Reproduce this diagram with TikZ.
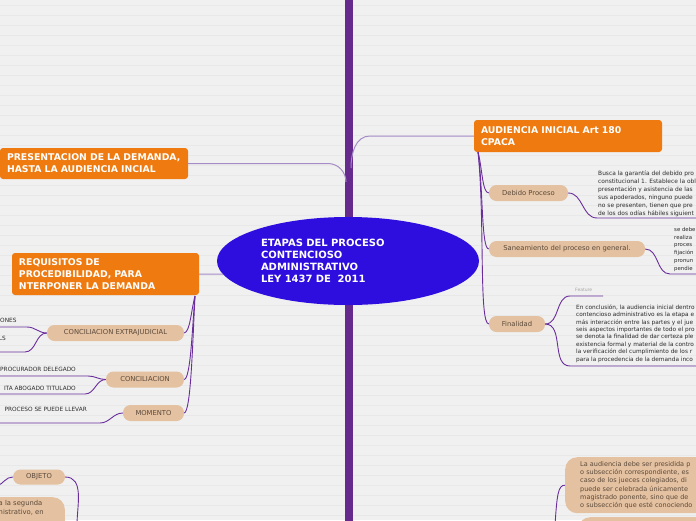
\documentclass[tikz,border=0pt]{standalone}
\usepackage{fontspec}
\setmainfont{DejaVu Sans}
\usetikzlibrary{shapes.geometric}
\definecolor{bgcol}{HTML}{F0F0F0}
\definecolor{stripecol}{HTML}{E8E8E8}
\definecolor{trunkcol}{HTML}{662A8F}
\definecolor{linkcol}{HTML}{6A2E9C}
\definecolor{branchcol}{HTML}{A68CC7}
\definecolor{orangecol}{HTML}{EE7A10}
\definecolor{tancol}{HTML}{E4C1A0}
\definecolor{tantext}{HTML}{5B4A3B}
\definecolor{centralcol}{HTML}{2E0EDE}
\definecolor{leaftext}{HTML}{2B2B2B}
\begin{document}
\begin{tikzpicture}[x=1pt,y=-1pt,
  topic/.style={fill=orangecol,rounded corners=3pt,text=white,align=left,
    font=\fontsize{9.3}{12}\selectfont\bfseries,inner xsep=7pt,inner ysep=0pt},
  pill/.style={fill=tancol,rounded corners=7.5pt,text=tantext,inner sep=0pt,
    font=\fontsize{6.8}{8}\selectfont,minimum height=16},
  tanbox/.style={fill=tancol,rounded corners=12pt,text=tantext,inner sep=0pt},
  leaf/.style={font=\fontsize{5.8}{7}\selectfont,text=leaftext,inner sep=0pt},
  para/.style={text=leaftext,inner sep=0pt,align=left,anchor=north west},
  link/.style={linkcol,line width=0.9pt},
  branch/.style={branchcol,line width=1pt}]
\useasboundingbox (0,0) rectangle (696,520);
\clip (0,0) rectangle (696,520);
\fill[bgcol] (0,0) rectangle (696,520);
\foreach \y in {5,15,...,515}
  \draw[stripecol,line width=1pt] (0,\y) -- (696,\y);
\fill[trunkcol] (344.5,-2) rectangle (352.5,522);

\node[ellipse,fill=centralcol,minimum width=262,minimum height=88,inner sep=0pt,outer sep=0pt,
  text width=174,align=left,text=white,font=\fontsize{10}{12}\selectfont\bfseries]
  (central) at (348,261) {ETAPAS DEL PROCESO\\CONTENCIOSO\\ADMINISTRATIVO\\LEY 1437 DE~~2011};

\node[topic,minimum width=188,minimum height=32,text width=174] (audiencia) at (568,136)
  {AUDIENCIA INICIAL Art 180\\CPACA};
\node[topic,minimum width=188,minimum height=31,text width=174] (presentacion) at (94,163.5)
  {PRESENTACION DE LA DEMANDA,\\HASTA LA AUDIENCIA INCIAL};
\node[topic,minimum width=187,minimum height=42,text width=173] (requisitos) at (105.5,274)
  {REQUISITOS DE\\PROCEDIBILIDAD, PARA\\NTERPONER LA DEMANDA};

\node[pill,minimum width=137] (concext) at (115.5,333) {CONCILIACION EXTRAJUDICIAL};
\node[pill,minimum width=78] (concil) at (145,379.5) {CONCILIACION};
\node[pill,minimum width=61] (momento) at (153.5,413) {MOMENTO};
\node[pill,minimum width=52,minimum height=15] (objeto) at (39,477) {OBJETO};
\node[pill,minimum width=79] (debido) at (528.5,193) {Debido Proceso};
\node[pill,minimum width=156] (saneam) at (567,249) {Saneamiento del proceso en general.};
\node[pill,minimum width=56] (finalidad) at (517,324) {Finalidad};

\node[leaf,anchor=base west] (ones) at (0,322) {ONES};
\node[leaf,anchor=base east] (ls) at (6,340) {LS};
\node[leaf,anchor=base east] (procdel) at (76,371) {PROCURADOR DELEGADO};
\node[leaf,anchor=base east] (abogado) at (76,390) {ITA ABOGADO TITULADO};
\node[leaf,anchor=base east] (llevar) at (87,411) {PROCESO SE PUEDE LLEVAR};

\node[para,font=\fontsize{5.9}{8}\selectfont] (debidotxt) at (598,170.5)
  {Busca la garantía del debido pro\\constitucional 1. Establece la obl\\presentación y asistencia de las\\sus apoderados, ninguno puede\\no se presenten, tienen que pre\\de los dos odías hábiles siguient};
\node[para,font=\fontsize{5.4}{7.8}\selectfont] (saneamtxt) at (674,227)
  {se debe\\realiza\\proces\\fijación\\pronun\\pendie};
\node[inner sep=0pt,anchor=base west,font=\fontsize{4.5}{5}\selectfont,text=gray!70] (feature) at (575,291) {Feature};
\node[para,font=\fontsize{5.8}{7.4}\selectfont] (finaltxt) at (576,304.5)
  {En conclusión, la audiencia inicial dentro\\contencioso administrativo es la etapa e\\más interacción entre las partes y el jue\\seis aspectos importantes de todo el pro\\se denota la finalidad de dar certeza ple\\existencia formal y material de la contro\\la verificación del cumplimiento de los r\\para la procedencia de la demanda inco};

\node[tanbox,anchor=north west,text width=200,inner xsep=15pt,minimum height=56,align=left,
  font=\fontsize{6.5}{8.3}\selectfont] (brbox) at (565,457)
  {La audiencia debe ser presidida p\\o subsección correspondiente, es\\caso de los jueces colegiados, di\\puede ser celebrada únicamente\\magistrado ponente, sino que de\\o subsección que esté conociendo};
\node[tanbox,anchor=north west,minimum width=150,minimum height=30] (brnext) at (578,517) {};
\node[tanbox,anchor=north east,minimum width=90,minimum height=40] (blbox) at (65,497) {};
\node[para,text=tantext,font=\fontsize{6.8}{9}\selectfont] (bltxt) at (-1.5,500.5)
  {a la segunda\\nistrativo, en};

\coordinate (trunkL) at (346,182);
\coordinate (trunkR) at (351,168);
\draw[branch] (presentacion.east) -- (328,163.5) to[out=0,in=90] (trunkL);
\draw[branch] (trunkR) to[out=90,in=180] (370,136) -- (audiencia.west);
\draw[branch] (requisitos.east) -- (central.186);

\coordinate (reqfoot) at (195,296);
\draw[link] (reqfoot) to[out=-105,in=10,in looseness=0.4] (concext.east);
\draw[link] (reqfoot) to[out=-95,in=10,in looseness=0.2] (concil.east);
\draw[link] (reqfoot) to[out=-93,in=10,in looseness=0.15] (momento.east);

\coordinate (audfoot) at (478,152);
\draw[link] (audfoot) to[out=-75,in=180,in looseness=0.4] (debido.west);
\draw[link] (audfoot) to[out=-82,in=180,in looseness=0.2] (saneam.west);
\draw[link] (audfoot) to[out=-84,in=180,in looseness=0.15] (finalidad.west);

\coordinate (ul1) at (27,327);
\coordinate (ul2) at (25,352);
\coordinate (ul3) at (88,376);
\coordinate (ul4) at (85,394);
\coordinate (ul5) at (100,423);
\draw[link] (concext.west) to[out=180,in=0] (ul1) -- (-2,327);
\draw[link] (concext.west) to[out=180,in=0] (ul2) -- (-2,352);
\draw[link] (concil.west) to[out=180,in=0] (ul3) -- (-2,376);
\draw[link] (concil.west) to[out=180,in=0] (ul4) -- (-2,394);
\draw[link] (momento.west) to[out=180,in=0] (ul5) -- (-2,423);

\coordinate (debul) at (597,218);
\coordinate (sanul) at (670,274);
\coordinate (featul) at (570,296);
\coordinate (finul) at (570,366);
\draw[link] (debido.east) to[out=0,in=180] (debul) -- (700,218);
\draw[link] (saneam.east) to[out=0,in=180] (sanul) -- (700,274);
\draw[link] (finalidad.east) to[out=0,in=180] (featul) -- (603,296);
\draw[link] (finalidad.east) to[out=0,in=180] (finul) -- (700,366);

\coordinate (objroot) at (77,525);
\coordinate (objleft) at (-3,486);
\coordinate (brroot) at (555,525);
\draw[link] (objeto.east) to[out=0,in=90] (objroot);
\draw[link] (objeto.west) to[out=180,in=20] (objleft);
\draw[link] (brroot) .. controls (557,495) and (558,485) .. (brbox.west);
\end{tikzpicture}
\end{document}
